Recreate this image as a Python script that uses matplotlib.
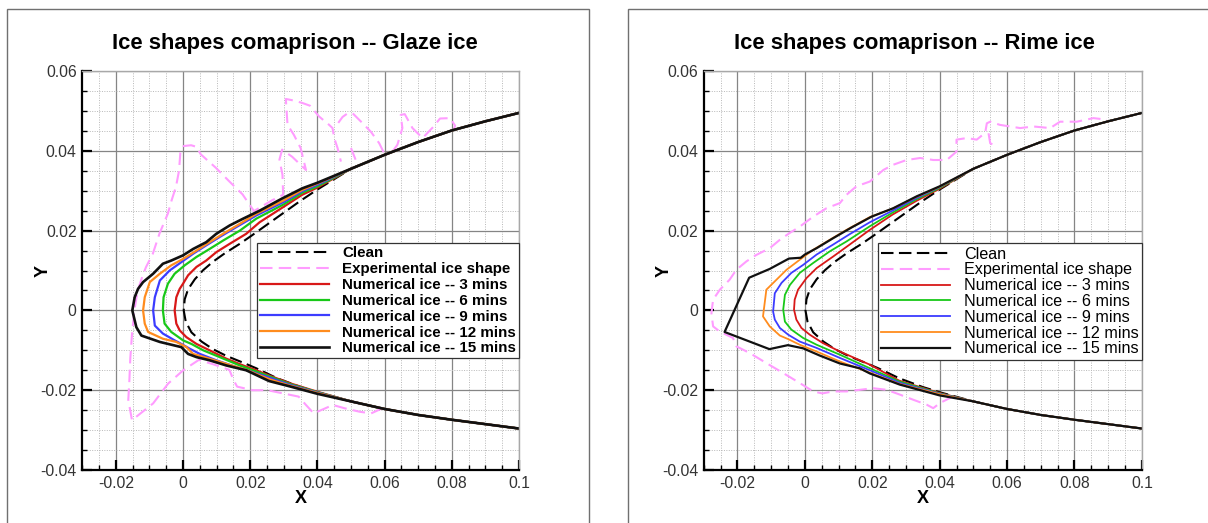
import numpy as np
import matplotlib.pyplot as plt
from matplotlib.ticker import MultipleLocator
from matplotlib.patches import Rectangle

plt.rcParams['font.family'] = ['Liberation Sans', 'DejaVu Sans']

# aft part of the airfoil, shared by every curve (x >= 0.05)
aft_lo_x = [0.1, 0.09, 0.08, 0.07, 0.06, 0.05]
aft_lo_y = [-0.0296, -0.0285, -0.0274, -0.0262, -0.0247, -0.0228]
aft_up_x = [0.05, 0.06, 0.07, 0.08, 0.09, 0.1]
aft_up_y = [0.0355, 0.0390, 0.0422, 0.0451, 0.0474, 0.0495]

# clean leading edge (lower x=0.04 -> nose -> upper x=0.04)
clean_x = [0.04, 0.035, 0.028, 0.0218, 0.0179, 0.0129, 0.0089, 0.0055, 0.0025, 0.0008, 0.0002,
           0.0005, 0.0015, 0.0035, 0.006, 0.0089, 0.0124, 0.0169, 0.0205, 0.025, 0.03, 0.035, 0.04]
clean_y = [-0.0205, -0.0192, -0.017, -0.0145, -0.0131, -0.0114, -0.0097, -0.0078, -0.0055, -0.0028, 0.0,
           0.0028, 0.0053, 0.0078, 0.0101, 0.0122, 0.0143, 0.0167, 0.0188, 0.0215, 0.0245, 0.0275, 0.0303]

# ---- glaze ice, numerical shapes ----
g3_x = [0.04, 0.0316, 0.0256, 0.0218, 0.0179, 0.0129, 0.0079, 0.004, 0.001, -0.001, -0.002, -0.0025,
        -0.002, -0.001, 0.0, 0.0015, 0.004, 0.0069, 0.0099, 0.0139, 0.0188, 0.0228, 0.03, 0.0355, 0.04]
g3_y = [-0.0204, -0.0182, -0.0163, -0.015, -0.0138, -0.0121, -0.01, -0.0084, -0.0067, -0.005, -0.0033, 0.0,
        0.0033, 0.0054, 0.0067, 0.0088, 0.0109, 0.0125, 0.0146, 0.0167, 0.0192, 0.0221, 0.026, 0.029, 0.0308]
g6_x = [0.04, 0.0316, 0.0256, 0.0208, 0.0169, 0.0109, 0.006, 0.0025, 0.0, -0.0035, -0.0055, -0.006,
        -0.0058, -0.0045, -0.0025, 0.0005, 0.004, 0.0079, 0.0119, 0.0169, 0.0218, 0.03, 0.0355, 0.04]
g6_y = [-0.0205, -0.0184, -0.0165, -0.015, -0.0138, -0.0117, -0.01, -0.0084, -0.0075, -0.0054, -0.0033, 0.0,
        0.0033, 0.0067, 0.0092, 0.0113, 0.0134, 0.0154, 0.0175, 0.02, 0.023, 0.0266, 0.0295, 0.0311]
g9_x = [0.04, 0.0316, 0.0256, 0.0198, 0.0159, 0.0099, 0.005, 0.002, -0.0005, -0.0025, -0.006, -0.0084, -0.0089,
        -0.0084, -0.0069, -0.004, -0.0005, 0.003, 0.0069, 0.0109, 0.0159, 0.0218, 0.03, 0.0355, 0.04]
g9_y = [-0.0206, -0.0186, -0.0168, -0.0152, -0.0142, -0.0125, -0.0109, -0.0096, -0.0084, -0.0075, -0.0058, -0.0038, 0.0,
        0.0033, 0.0075, 0.01, 0.0121, 0.0142, 0.0163, 0.0184, 0.0209, 0.0238, 0.0272, 0.0299, 0.0315]
g12_x = [0.04, 0.0316, 0.0256, 0.0188, 0.0129, 0.0079, 0.003, 0.001, -0.002, -0.006, -0.0104, -0.0114, -0.0119,
         -0.0114, -0.0099, -0.0069, -0.0035, 0.0, 0.004, 0.0079, 0.0119, 0.0169, 0.0218, 0.03, 0.0355, 0.04]
g12_y = [-0.0207, -0.0188, -0.0172, -0.0149, -0.0134, -0.0121, -0.0109, -0.0092, -0.0079, -0.0071, -0.0054, -0.0033, 0.0,
         0.0033, 0.0071, 0.0092, 0.0113, 0.0129, 0.015, 0.0171, 0.0192, 0.0217, 0.0242, 0.0276, 0.0302, 0.0318]
g15_x = [0.04, 0.0316, 0.0256, 0.0188, 0.0129, 0.0079, 0.004, 0.0015, -0.0005, -0.0069, -0.0124, -0.0139, -0.0151,
         -0.0144, -0.0134, -0.0119, -0.0089, -0.006, -0.0035, 0.0, 0.003, 0.0069, 0.0099, 0.0139, 0.0179, 0.0228,
         0.0296, 0.0355, 0.04]
g15_y = [-0.0209, -0.019, -0.0177, -0.015, -0.0138, -0.0125, -0.0117, -0.0109, -0.0092, -0.0079, -0.0063, -0.0042, 0.0,
         0.0033, 0.0054, 0.0071, 0.0092, 0.0117, 0.0125, 0.0138, 0.0154, 0.0171, 0.0192, 0.0213, 0.023, 0.025,
         0.0281, 0.0306, 0.032]

# glaze experimental trace (nan = pen up)
gexp_x = [0.0594, 0.056, 0.0526, 0.048, 0.0446, 0.0389, 0.0366, 0.0344, 0.0298, 0.0252, 0.0207, 0.0161, 0.015,
          0.0138, 0.009, 0.0047, 0.0002, -0.0044, -0.0089, -0.0152, -0.0163, -0.016, -0.0157, -0.0152, -0.0145,
          -0.0135, -0.012, -0.011, -0.009, -0.007, -0.0045, -0.0034, -0.0021, -0.0012, -0.0008, 0.0002, 0.0024,
          0.004, 0.0053, 0.0097, 0.0137, 0.0177, 0.0211, 0.0265, 0.0298, 0.0296, 0.0287, 0.0295, 0.0325, 0.0366,
          0.035, 0.033, 0.0311, 0.0306, 0.033, 0.0355, 0.0378, 0.0405, 0.0435, 0.0445, 0.045, 0.046, 0.047, np.nan,
          0.0462, 0.0475, 0.049, 0.0505, 0.053, 0.0559, 0.0584, 0.0598, np.nan,
          0.050, 0.0514, 0.052, np.nan,
          0.0625, 0.0638, 0.0653, 0.0648, 0.066, 0.0683, 0.0713, 0.0745, 0.0765, 0.0795, 0.081, 0.0805]
gexp_y = [-0.0245, -0.0258, -0.0254, -0.0245, -0.0237, -0.0258, -0.0237, -0.0216, -0.0208, -0.020, -0.020, -0.0191, -0.0174,
          -0.0149, -0.0135, -0.0124, -0.0149, -0.0183, -0.0233, -0.0275, -0.0224, -0.018, -0.012, -0.006, 0.0,
          0.005, 0.0088, 0.0109, 0.0142, 0.0193, 0.0243, 0.0276, 0.031, 0.035, 0.0395, 0.0412, 0.0414,
          0.041, 0.0391, 0.0358, 0.0324, 0.0291, 0.0249, 0.0276, 0.029, 0.034, 0.0378, 0.0403, 0.0385, 0.0352,
          0.0407, 0.044, 0.0465, 0.053, 0.0526, 0.052, 0.0513, 0.0486, 0.0465, 0.0457, 0.0432, 0.0407, 0.0373, np.nan,
          0.047, 0.0485, 0.0494, 0.0494, 0.0473, 0.0448, 0.0419, 0.0395, np.nan,
          0.0407, 0.0377, 0.0365, np.nan,
          0.040, 0.0415, 0.0457, 0.049, 0.0492, 0.0457, 0.0432, 0.046, 0.0481, 0.0482, 0.0463, 0.0452]

# ---- rime ice, numerical shapes ----
r3_x = [0.04, 0.028, 0.0193, 0.0104, 0.0054, 0.0015, -0.001, -0.0025, -0.0032,
        -0.003, -0.002, 0.0005, 0.0035, 0.0084, 0.0133, 0.0193, 0.026, 0.033, 0.04]
r3_y = [-0.0207, -0.0176, -0.0136, -0.0103, -0.0082, -0.0061, -0.0044, -0.0023, 0.0002,
        0.0027, 0.0052, 0.0081, 0.0106, 0.0135, 0.0165, 0.0202, 0.024, 0.0274, 0.0305]
r6_x = [0.04, 0.028, 0.0193, 0.0104, 0.0035, -0.0005, -0.004, -0.0059, -0.0064,
        -0.0059, -0.0044, -0.0015, 0.0025, 0.0074, 0.0124, 0.0193, 0.026, 0.033, 0.04]
r6_y = [-0.0208, -0.0178, -0.0145, -0.0111, -0.0086, -0.0069, -0.0048, -0.0028, 0.0002,
        0.0039, 0.0064, 0.0094, 0.0119, 0.0148, 0.0173, 0.0211, 0.0245, 0.0278, 0.0307]
r9_x = [0.04, 0.028, 0.0193, 0.0104, 0.0035, -0.0015, -0.0049, -0.0074, -0.0089, -0.0094,
        -0.0089, -0.0069, -0.004, -0.0005, 0.0035, 0.0084, 0.0133, 0.0193, 0.026, 0.033, 0.04]
r9_y = [-0.0209, -0.0181, -0.015, -0.0119, -0.0094, -0.0078, -0.0061, -0.0044, -0.0023, -0.0003,
        0.0043, 0.0069, 0.0094, 0.0114, 0.014, 0.0165, 0.0191, 0.0221, 0.025, 0.0281, 0.0309]
r12_x = [0.04, 0.028, 0.0193, 0.0104, 0.0035, -0.0015, -0.0049, -0.0074, -0.0104, -0.0124,
         -0.0114, -0.0084, -0.0054, -0.0015, 0.0025, 0.0074, 0.0124, 0.0193, 0.026, 0.033, 0.04]
r12_y = [-0.021, -0.0184, -0.0156, -0.0128, -0.0103, -0.0086, -0.0072, -0.0063, -0.004, -0.0015,
         0.0052, 0.0077, 0.0102, 0.0127, 0.0152, 0.0177, 0.0202, 0.0234, 0.0255, 0.0284, 0.031]
r15_x = [0.04, 0.0282, 0.0193, 0.0163, 0.0104, 0.0044, -0.0005, -0.005, -0.0105, -0.0238,
         -0.0165, -0.0104, -0.0047, -0.0012, 0.0, 0.0035, 0.0084, 0.0139, 0.0198, 0.0262, 0.0332, 0.04]
r15_y = [-0.0213, -0.0186, -0.0158, -0.0145, -0.0133, -0.0113, -0.0095, -0.0087, -0.0097, -0.0054,
         0.0082, 0.0104, 0.013, 0.0132, 0.014, 0.0156, 0.0181, 0.0208, 0.0235, 0.0256, 0.0286, 0.0311]

# rime experimental trace
rexp_x = [0.0441, 0.0401, 0.0381, 0.0361, 0.0322, 0.0282, 0.0243, 0.0203, 0.0124, 0.0084, 0.0052, 0.0025,
          -0.0015, -0.0064, -0.0114, -0.0163, -0.0203, -0.0213, -0.0252, -0.0272, -0.0277, -0.0272, -0.0252,
          -0.0223, -0.0203, -0.0173, -0.0144, -0.0104, -0.0074, -0.0045, -0.0015, 0.0025, 0.0064, 0.0104,
          0.0124, 0.0153, 0.0193, 0.0233, 0.0262, 0.0302, 0.0342, 0.0381, 0.0421, 0.045, 0.045, 0.048, 0.051,
          0.0535, 0.054, 0.055, 0.0579, 0.0609, 0.0639, 0.0678, 0.0728, 0.0757, 0.0807, 0.0856, 0.0896, np.nan,
          0.0545, 0.055, 0.0569]
rexp_y = [-0.0215, -0.0232, -0.0245, -0.0236, -0.0224, -0.0211, -0.0199, -0.0195, -0.0203, -0.0203, -0.0208, -0.0203,
          -0.0182, -0.0157, -0.0132, -0.0107, -0.009, -0.0069, -0.0053, -0.004, -0.0007, 0.0027, 0.0052,
          0.0077, 0.0102, 0.0123, 0.0139, 0.0156, 0.0177, 0.0194, 0.021, 0.0235, 0.0256, 0.0269,
          0.029, 0.0311, 0.0323, 0.0352, 0.0365, 0.0377, 0.0382, 0.0377, 0.0377, 0.0398, 0.0428, 0.0432, 0.0428,
          0.0445, 0.0469, 0.0473, 0.0465, 0.0461, 0.0457, 0.0461, 0.0457, 0.0473, 0.0473, 0.0482, 0.0478, np.nan,
          0.0444, 0.0419, 0.0411]

labels = ['Clean', 'Experimental ice shape', 'Numerical ice -- 3 mins', 'Numerical ice -- 6 mins',
          'Numerical ice -- 9 mins', 'Numerical ice -- 12 mins', 'Numerical ice -- 15 mins']
ice_colors = ['#d81818', '#18c818', '#3c3cff', '#ff8c1e', '#111111']
titles = ['Ice shapes comaprison -- Glaze ice', 'Ice shapes comaprison -- Rime ice']
xtick_vals = [-0.02, 0, 0.02, 0.04, 0.06, 0.08, 0.1]
xtick_labels = ['-0.02', '0', '0.02', '0.04', '0.06', '0.08', '0.1']
ytick_vals = [-0.04, -0.02, 0, 0.02, 0.04, 0.06]
ytick_labels = ['-0.04', '-0.02', '0', '0.02', '0.04', '0.06']


def full(xs, ys):
    return aft_lo_x + xs + aft_up_x, aft_lo_y + ys + aft_up_y


fig = plt.figure(figsize=(12.08, 5.23), dpi=100)
ax1 = fig.add_axes([0.0681, 0.1013, 0.3615, 0.7629])
ax2 = fig.add_axes([0.5825, 0.1013, 0.3628, 0.7629])

# ax, experiment, ice curves, line width, legend weight, legend size, handlelength, labelspacing
panels = [
    (ax1, (gexp_x, gexp_y), [(g3_x, g3_y), (g6_x, g6_y), (g9_x, g9_y), (g12_x, g12_y), (g15_x, g15_y)],
     1.6, 'bold', 10.9, 4.55, 0.12),
    (ax2, (rexp_x, rexp_y), [(r3_x, r3_y), (r6_x, r6_y), (r9_x, r9_y), (r12_x, r12_y), (r15_x, r15_y)],
     1.3, 'normal', 11.65, 4.25, 0.05),
]

for ax, exp, ice, lw, lweight, lsize, hlen, lspace in panels:
    cx, cy = full(clean_x, clean_y)
    ax.plot(cx, cy, color='black', lw=1.5, dashes=(6, 2.6), label=labels[0])
    ax.plot(exp[0], exp[1], color='#ff9cff', lw=1.5, dashes=(6, 3), label=labels[1])
    for (xs, ys), col, lab in zip(ice, ice_colors, labels[2:]):
        px, py = full(xs, ys)
        ax.plot(px, py, color=col, lw=lw if col != '#111111' else lw + 0.3, label=lab)

    ax.set_xlim(-0.03, 0.1)
    ax.set_ylim(-0.04, 0.06)
    ax.set_xticks(xtick_vals)
    ax.set_xticklabels(xtick_labels)
    ax.set_yticks(ytick_vals)
    ax.set_yticklabels(ytick_labels)
    ax.xaxis.set_minor_locator(MultipleLocator(0.005))
    ax.yaxis.set_minor_locator(MultipleLocator(0.005))
    ax.grid(which='major', color='#858585', lw=0.9)
    ax.grid(which='minor', color='#b8b8b8', lw=0.7, ls=(0, (1, 1.5)))
    ax.set_axisbelow(True)
    ax.tick_params(which='major', direction='in', length=7, width=1.6, color='black',
                   labelsize=11.3, labelcolor='#333333', pad=4)
    ax.tick_params(which='minor', direction='in', length=3.5, width=1.0, color='black')
    for s in ['left', 'bottom']:
        ax.spines[s].set_linewidth(1.6)
    for s in ['top', 'right']:
        ax.spines[s].set_color('#a8a8a8')
        ax.spines[s].set_linewidth(1.0)

    ax.set_xlabel('X', fontsize=13, fontweight='bold')
    ax.set_ylabel('Y', fontsize=13, fontweight='bold')
    ax.xaxis.set_label_coords(0.5, -0.05)
    ax.yaxis.set_label_coords(-0.07, 0.5)

    leg = ax.legend(loc='upper right', bbox_to_anchor=(1.0, 0.568), borderaxespad=0,
                    fancybox=False, framealpha=1, edgecolor='#333333', handlelength=hlen,
                    handletextpad=0.85, labelspacing=lspace, borderpad=0.2,
                    prop={'size': lsize, 'weight': lweight})
    leg.get_frame().set_linewidth(0.9)

fig.text(295 / 1208, 1 - 44 / 523, titles[0], ha='center', va='center', fontsize=15.8, fontweight='bold')
fig.text(914 / 1208, 1 - 44 / 523, titles[1], ha='center', va='center', fontsize=15.8, fontweight='bold')

# outer panel frames
fig.patches.append(Rectangle((7.5 / 1208, -0.05), 581 / 1208, 1.05 - 9 / 523, transform=fig.transFigure,
                             fill=False, ec='#707070', lw=1.0))
fig.patches.append(Rectangle((628 / 1208, -0.05), 0.5, 1.05 - 9 / 523, transform=fig.transFigure,
                             fill=False, ec='#707070', lw=1.0))

fig.savefig('out.png', dpi=100)
